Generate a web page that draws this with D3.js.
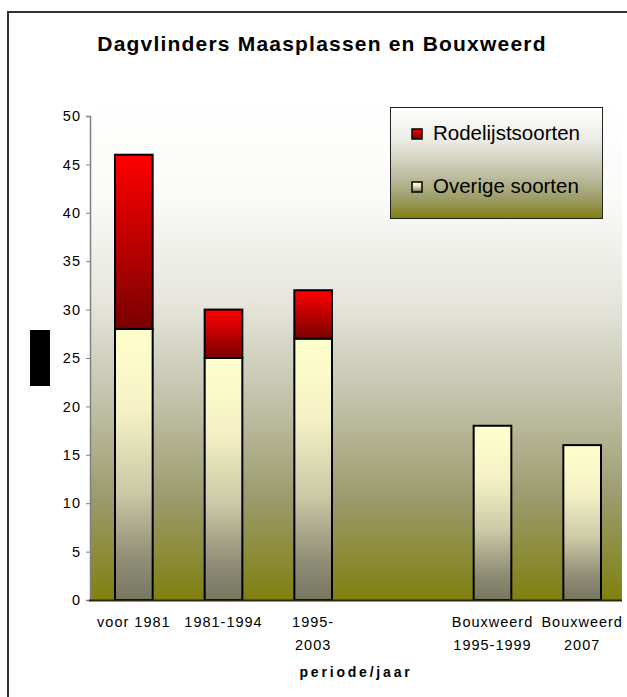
<!DOCTYPE html>
<html>
<head>
<meta charset="utf-8">
<script src="https://cdn.jsdelivr.net/npm/d3@7"></script>
<style>
body { margin: 0; background: #fff; }
svg text { font-family: "Liberation Sans", Arial, sans-serif; }
</style>
</head>
<body>
<svg id="chart" width="627" height="697"></svg>
<script>
// data
var categories = ["voor 1981", "1981-1994", "1995-2003", "", "Bouxweerd 1995-1999", "Bouxweerd 2007"];
var labelLines = [["voor 1981"], ["1981-1994"], ["1995-", "2003"], [""], ["Bouxweerd", "1995-1999"], ["Bouxweerd", "2007"]];
var overige = [28, 25, 27, 0, 18, 16];   // Overige soorten
var rodelijst = [18, 5, 5, 0, 0, 0];     // Rodelijstsoorten
var seriesNames = ["Overige soorten", "Rodelijstsoorten"];
var yTicks = [0, 5, 10, 15, 20, 25, 30, 35, 40, 45, 50];

var svg = d3.select("#chart");
var defs = svg.append("defs");

function grad(id, stops) {
	var g = defs.append("linearGradient").attr("id", id)
		.attr("x1", 0).attr("y1", 0).attr("x2", 0).attr("y2", 1);
	g.selectAll("stop").data(stops).enter().append("stop")
		.attr("offset", function(d) { return d[0]; })
		.attr("stop-color", function(d) { return d[1]; });
	return g;
}
grad("bgGrad", [[0, "#ffffff"], [0.2, "#fafaf7"], [0.4, "#e6e6de"], [0.6, "#c2c2aa"], [0.8, "#9a9a6c"], [1, "#80800f"]]);
grad("legGrad", [[0, "#ffffff"], [0.3, "#ebebe4"], [0.6, "#c0c0a6"], [0.85, "#98985e"], [1, "#80800a"]]);
grad("overGrad", [[0, "#ffffcc"], [0.3, "#f4f2c5"], [0.6, "#cbc9a6"], [0.85, "#8f8d75"], [1, "#77765f"]]);
grad("redGrad", [[0, "#ff0000"], [1, "#7a0000"]]);

// outer frame (runs past the right/bottom edge)
svg.append("rect").attr("x", 8).attr("y", 12).attr("width", 700).attr("height", 700)
	.attr("fill", "none").attr("stroke", "#333").attr("stroke-width", 2);

// title
svg.append("text").attr("x", 322).attr("y", 51).attr("text-anchor", "middle")
	.attr("font-size", 21).attr("font-weight", "bold").attr("letter-spacing", 1.2)
	.text("Dagvlinders Maasplassen en Bouxweerd");

var x = d3.scaleBand().domain(categories).range([89, 627]).paddingInner(0.58).paddingOuter(0.29);
var y = d3.scaleLinear().domain([0, 50]).range([600, 116]);

// plot background
svg.append("rect").attr("x", 90).attr("y", 100).attr("width", 532).attr("height", 500)
	.attr("fill", "url(#bgGrad)");

// stacked bars
var table = categories.map(function(c, i) { return {cat: c, o: overige[i], r: rodelijst[i]}; });
var stack = d3.stack().keys(["o", "r"])(table);
var fills = ["url(#overGrad)", "url(#redGrad)"];

svg.selectAll("g.series").data(stack).enter().append("g").attr("class", "series")
	.attr("fill", function(d, i) { return fills[i]; })
	.selectAll("rect").data(function(d) { return d.filter(function(p) { return p[1] > p[0]; }); })
	.enter().append("rect")
	.attr("x", function(d) { return x(d.data.cat); })
	.attr("y", function(d) { return y(d[1]); })
	.attr("width", x.bandwidth())
	.attr("height", function(d) { return y(d[0]) - y(d[1]); })
	.attr("stroke", "#000").attr("stroke-width", 2);

// y axis
var yAxis = svg.append("g").attr("transform", "translate(90,0)")
	.call(d3.axisLeft(y).tickValues(yTicks).tickSize(4).tickPadding(5));
yAxis.select(".domain").attr("stroke", "#808080").attr("stroke-width", 1.5);
yAxis.selectAll(".tick line").attr("stroke", "#808080");
yAxis.selectAll(".tick text").attr("font-size", 14.5).attr("letter-spacing", 1)
	.attr("font-family", "Liberation Sans, Arial, sans-serif").attr("fill", "#000");

// x axis line
svg.append("line").attr("x1", 89).attr("x2", 622).attr("y1", 600.5).attr("y2", 600.5)
	.attr("stroke", "#2a2a10").attr("stroke-width", 2);

// x labels
svg.selectAll("text.xlab").data(categories).enter().append("text").attr("class", "xlab")
	.attr("text-anchor", "middle").attr("font-size", 14.5).attr("letter-spacing", 1)
	.attr("y", 627)
	.each(function(d, i) {
		var t = d3.select(this);
		labelLines[i].forEach(function(line, j) {
			t.append("tspan").attr("x", x(d) + x.bandwidth() / 2).attr("dy", j ? 23 : 0).text(line);
		});
	});

// x axis title
svg.append("text").attr("x", 356).attr("y", 677).attr("text-anchor", "middle")
	.attr("font-size", 14).attr("font-weight", "bold").attr("letter-spacing", 2.8)
	.text("periode/jaar");

// y axis title block
svg.append("rect").attr("x", 30).attr("y", 330).attr("width", 20).attr("height", 56).attr("fill", "#000");

// legend
var leg = svg.append("g");
leg.append("rect").attr("x", 390.5).attr("y", 107.5).attr("width", 212).attr("height", 111)
	.attr("fill", "url(#legGrad)").attr("stroke", "#222").attr("stroke-width", 1);
var legItems = [{name: seriesNames[1], fill: "url(#redGrad)", y: 140}, {name: seriesNames[0], fill: "url(#overGrad)", y: 193}];
var li = leg.selectAll("g.item").data(legItems).enter().append("g").attr("class", "item");
li.append("rect").attr("x", 412).attr("y", function(d) { return d.y - 11; })
	.attr("width", 10).attr("height", 10).attr("fill", function(d) { return d.fill; })
	.attr("stroke", "#000").attr("stroke-width", 1.5);
li.append("text").attr("x", 433).attr("y", function(d) { return d.y; })
	.attr("font-size", 20.5).text(function(d) { return d.name; });
</script>
</body>
</html>
